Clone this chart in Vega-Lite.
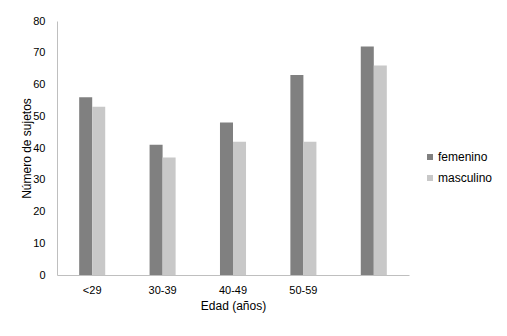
{
  "$schema": "https://vega.github.io/schema/vega-lite/v6.json",
  "width": 352,
  "height": 254,
  "autosize": {"type": "none"},
  "padding": {"left": 57, "top": 21, "right": 98, "bottom": 61},
  "background": "white",
  "data": {
    "values": [
      {"edad": "<29", "sexo": "femenino", "n": 56},
      {"edad": "<29", "sexo": "masculino", "n": 53},
      {"edad": "30-39", "sexo": "femenino", "n": 41},
      {"edad": "30-39", "sexo": "masculino", "n": 37},
      {"edad": "40-49", "sexo": "femenino", "n": 48},
      {"edad": "40-49", "sexo": "masculino", "n": 42},
      {"edad": "50-59", "sexo": "femenino", "n": 63},
      {"edad": "50-59", "sexo": "masculino", "n": 42},
      {"edad": "60+", "sexo": "femenino", "n": 72},
      {"edad": "60+", "sexo": "masculino", "n": 66}
    ]
  },
  "mark": {"type": "bar"},
  "encoding": {
    "x": {
      "field": "edad",
      "type": "nominal",
      "sort": ["<29", "30-39", "40-49", "50-59", "60+"],
      "scale": {"paddingInner": 0.63, "paddingOuter": 0.315},
      "axis": {
        "title": "Edad (años)",
        "labelAngle": 0,
        "labelExpr": "datum.value == '60+' ? '' : datum.label",
        "ticks": false,
        "domainColor": "#bfbfbf",
        "labelPadding": 9,
        "labelFont": "Liberation Sans",
        "labelFontSize": 11,
        "labelColor": "#000000",
        "titleFont": "Liberation Sans",
        "titleFontSize": 12,
        "titleFontWeight": "normal",
        "titleColor": "#000000",
        "titlePadding": 5
      }
    },
    "xOffset": {"field": "sexo", "type": "nominal", "scale": {"paddingInner": 0, "paddingOuter": 0}},
    "y": {
      "field": "n",
      "type": "quantitative",
      "scale": {"domain": [0, 80]},
      "axis": {
        "title": "Número de sujetos",
        "values": [0, 10, 20, 30, 40, 50, 60, 70, 80],
        "grid": false,
        "ticks": false,
        "domainColor": "#bfbfbf",
        "labelPadding": 12,
        "labelFont": "Liberation Sans",
        "labelFontSize": 11,
        "labelColor": "#000000",
        "titleFont": "Liberation Sans",
        "titleFontSize": 12,
        "titleFontWeight": "normal",
        "titleColor": "#000000",
        "titlePadding": -1
      }
    },
    "color": {
      "field": "sexo",
      "type": "nominal",
      "scale": {"domain": ["femenino", "masculino"], "range": ["#808080", "#c8c8c8"]},
      "legend": {
        "title": null,
        "orient": "none",
        "legendX": 367,
        "legendY": 130,
        "symbolType": "square",
        "symbolSize": 36,
        "symbolStrokeWidth": 0,
        "rowPadding": 9,
        "labelFont": "Liberation Sans",
        "labelFontSize": 12,
        "labelColor": "#000000",
        "labelOffset": 2
      }
    }
  },
  "config": {"view": {"stroke": null}}
}
